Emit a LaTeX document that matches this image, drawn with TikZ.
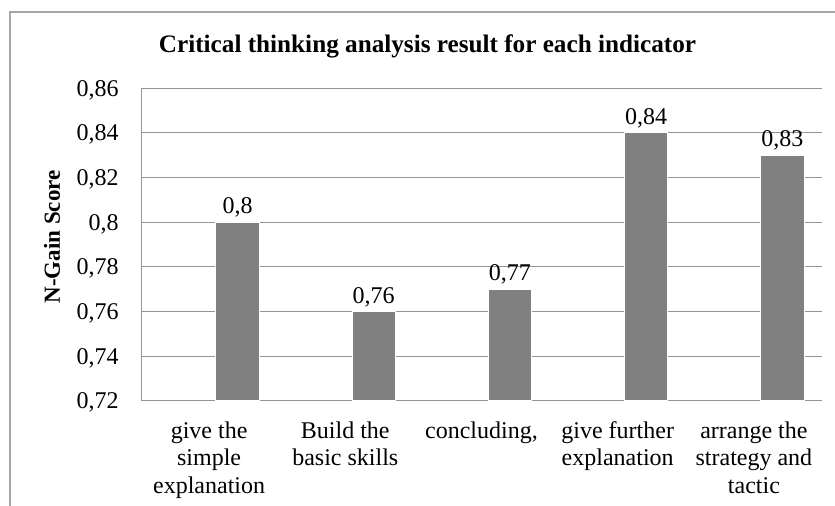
\documentclass[tikz,border=0pt]{standalone}
\usepackage{fontspec}
\setmainfont{Liberation Serif}
\usepackage{tikz}
\definecolor{bargray}{HTML}{808080}
\definecolor{gridgray}{HTML}{959595}
\definecolor{framegray}{HTML}{A6A6A6}
\usetikzlibrary{positioning}

\tikzset{
	bar/.style = {draw=white, line width=0.4pt, fill=bargray, minimum width=21.75pt, inner sep=0pt, anchor=south},
	val/.style = {inner sep=1.8pt, font=\fontsize{12}{14}\selectfont},
	tick/.style = {inner sep=0pt, anchor=base east, font=\fontsize{12}{14}\selectfont},
	cat/.style = {inner sep=0pt, anchor=north, align=center, font=\fontsize{12}{13.8}\selectfont},
	gridline/.style = {draw=gridgray, line width=0.5pt}
}

\begin{document}
\begin{tikzpicture}[x=0.5pt, y=-0.5pt]
			\useasboundingbox (0,0) rectangle (835,506);
			% chart frame
			\draw[framegray, line width=0.9pt] (10,506) -- (10,12) -- (835,12);
			
			\node[anchor=base, inner sep=0pt, font=\bfseries\fontsize{12.6}{14}\selectfont] (title) at (427.5,53) {Critical thinking analysis result for each indicator};
			\node[rotate=90, inner sep=0pt, font=\bfseries\fontsize{11.5}{14}\selectfont] (ylabel) at (52,237) {N-Gain Score};
			
			% grid and axes
			\coordinate (o) at (141,401);
			\coordinate (e) at (822,401);
			\coordinate (t) at (141,88.3);
			\draw[gridline] (141,356.3) -- (822,356.3);
			\draw[gridline] (141,311.7) -- (822,311.7);
			\draw[gridline] (141,267.0) -- (822,267.0);
			\draw[gridline] (141,222.3) -- (822,222.3);
			\draw[gridline] (141,177.7) -- (822,177.7);
			\draw[gridline] (141,133.0) -- (822,133.0);
			\draw[gridline] (141,88.3) -- (822,88.3);
			\draw[gridline] (t) -- (o) -- (e);
			
			\node[tick] (y72) at (119,409.0) {0,72};
			\node[tick] (y74) at (119,364.3) {0,74};
			\node[tick] (y76) at (119,319.7) {0,76};
			\node[tick] (y78) at (119,275.0) {0,78};
			\node[tick] (y80) at (119,230.3) {0,8};
			\node[tick] (y82) at (119,185.7) {0,82};
			\node[tick] (y84) at (119,141.0) {0,84};
			\node[tick] (y86) at (119,96.3) {0,86};
			
			% bars
			\node[bar, minimum height=89.3pt] (b1) at (237.5,401) {};
			\node[bar, minimum height=44.7pt] (b2) at (373.7,401) {};
			\node[bar, minimum height=55.8pt] (b3) at (509.9,401) {};
			\node[bar, minimum height=134.0pt] (b4) at (646.1,401) {};
			\node[bar, minimum height=122.8pt] (b5) at (782.3,401) {};
			
			\node[val, above=0pt of b1] (v1) {0,8};
			\node[val, above=0pt of b2] (v2) {0,76};
			\node[val, above=0pt of b3] (v3) {0,77};
			\node[val, above=0pt of b4] (v4) {0,84};
			\node[val, above=0pt of b5] (v5) {0,83};
			
			% category names
			\node[cat] (c1) at (209.1,421) {give the\\simple\\explanation};
			\node[cat] (c2) at (345.3,421) {Build the\\basic skills};
			\node[cat] (c3) at (481.5,421) {concluding,};
			\node[cat] (c4) at (617.7,421) {give further\\explanation};
			\node[cat] (c5) at (753.9,421) {arrange the\\strategy and\\tactic};
			
			\end{tikzpicture}
\end{document}
